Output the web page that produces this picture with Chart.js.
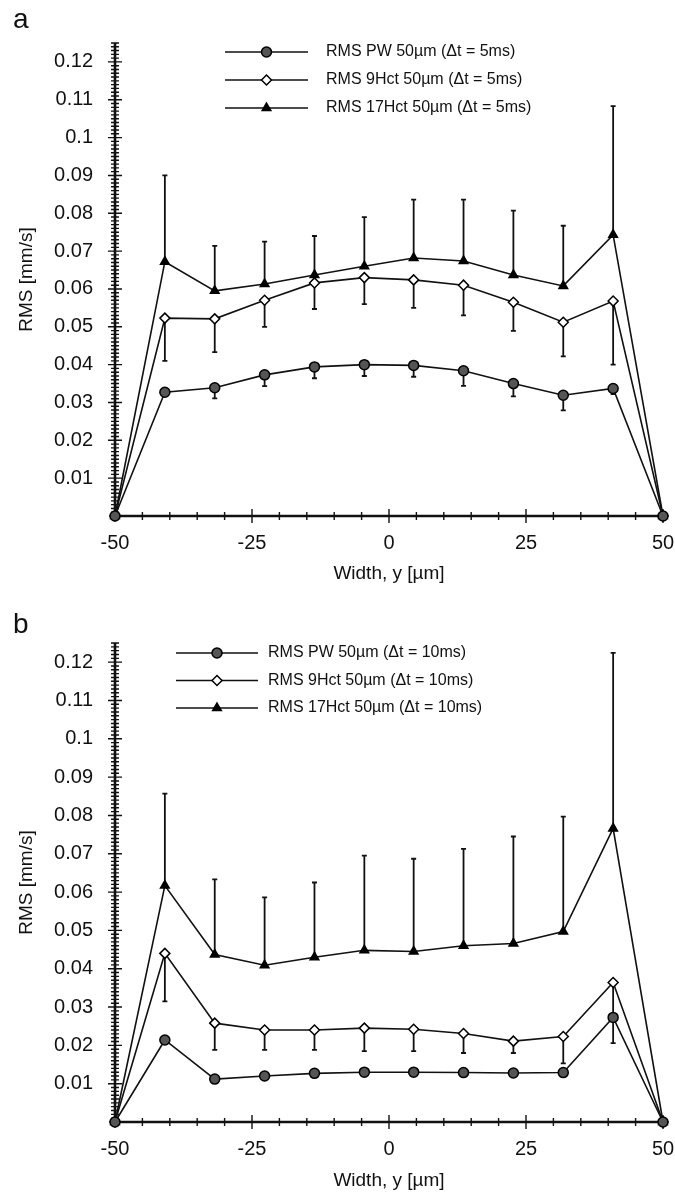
<!DOCTYPE html>
<html>
<head>
<meta charset="utf-8">
<script src="https://cdn.jsdelivr.net/npm/chart.js@4.4.0/dist/chart.umd.min.js"></script>
<style>
  body { margin: 0; background: #fff; }
  .painel { position: relative; width: 675px; height: 596px; }
  .letra { position: absolute; left: 13px; font: 28px "Liberation Sans", Arial, sans-serif; color: #111; line-height: 32px; }
</style>
</head>
<body>
<div class="painel"><div class="letra" style="top:3px">a</div><canvas id="grafico-a"></canvas></div>
<div class="painel"><div class="letra" style="top:12px">b</div><canvas id="grafico-b"></canvas></div>
<script>
// posições no canal (largura, µm)
const larguraY = [-50, -40.9, -31.8, -22.7, -13.6, -4.5, 4.5, 13.6, 22.7, 31.8, 40.9, 50];

// painel a (Δt = 5ms)
const pwA = [0, 0.0327, 0.0339, 0.0373, 0.0394, 0.0400, 0.0398, 0.0384, 0.0350, 0.0319, 0.0337, 0];
const pwErroA = [0, 0.0008, 0.0028, 0.0030, 0.0030, 0.0030, 0.0030, 0.0040, 0.0034, 0.0040, 0.0015, 0];
const hct9A = [0, 0.0523, 0.0521, 0.0570, 0.0616, 0.0630, 0.0624, 0.0610, 0.0565, 0.0512, 0.0568, 0];
const hct9ErroA = [0, 0.0113, 0.0088, 0.0070, 0.0069, 0.0070, 0.0074, 0.0080, 0.0076, 0.0090, 0.0168, 0];
const hct17A = [0, 0.0672, 0.0595, 0.0613, 0.0637, 0.0660, 0.0682, 0.0674, 0.0637, 0.0608, 0.0743, 0];
const hct17ErroA = [0, 0.0228, 0.0119, 0.0112, 0.0103, 0.0130, 0.0154, 0.0162, 0.0170, 0.0159, 0.0340, 0];

// painel b (Δt = 10ms)
const pwB = [0, 0.0214, 0.0112, 0.0120, 0.0127, 0.0130, 0.0130, 0.0129, 0.0128, 0.0129, 0.0273, 0];
const pwErroB = [0, 0.0008, 0.0005, 0.0005, 0.0005, 0.0005, 0.0005, 0.0005, 0.0005, 0.0005, 0.0067, 0];
const hct9B = [0, 0.0440, 0.0258, 0.0240, 0.0240, 0.0245, 0.0242, 0.0231, 0.0211, 0.0223, 0.0364, 0];
const hct9ErroB = [0, 0.0125, 0.0070, 0.0052, 0.0052, 0.0060, 0.0057, 0.0051, 0.0031, 0.0070, 0.0090, 0];
const hct17B = [0, 0.0617, 0.0437, 0.0409, 0.0430, 0.0448, 0.0445, 0.0460, 0.0466, 0.0497, 0.0766, 0];
const hct17ErroB = [0, 0.0240, 0.0196, 0.0177, 0.0195, 0.0247, 0.0242, 0.0253, 0.0279, 0.0300, 0.0458, 0];

const rotulosA = ['RMS PW 50\u00b5m (\u0394t = 5ms)', 'RMS 9Hct 50\u00b5m (\u0394t = 5ms)', 'RMS 17Hct 50\u00b5m (\u0394t = 5ms)'];
const rotulosB = ['RMS PW 50\u00b5m (\u0394t = 10ms)', 'RMS 9Hct 50\u00b5m (\u0394t = 10ms)', 'RMS 17Hct 50\u00b5m (\u0394t = 10ms)'];

const ticksY = ['0.01', '0.02', '0.03', '0.04', '0.05', '0.06', '0.07', '0.08', '0.09', '0.1', '0.11', '0.12'];
const ticksX = ['-50', '-25', '0', '25', '50'];

const FONTE = '"Liberation Sans", Arial, sans-serif';
const PRETO = '#111';

// barras de erro de um lado só (PW e 9Hct para baixo, 17Hct para cima)
const barrasErro = {
  id: 'barrasErro',
  beforeDatasetsDraw(chart) {
    const { ctx, scales: { x, y } } = chart;
    ctx.save();
    ctx.strokeStyle = PRETO;
    ctx.lineWidth = 1.8;
    chart.data.datasets.forEach(ds => {
      ds.data.forEach((p, i) => {
        const e = ds.erro[i];
        if (!e) return;
        const px = x.getPixelForValue(p.x);
        const y0 = y.getPixelForValue(p.y);
        const y1 = y.getPixelForValue(p.y + ds.sentido * e);
        ctx.beginPath();
        ctx.moveTo(px, y0);
        ctx.lineTo(px, y1);
        ctx.moveTo(px - 2.5, y1);
        ctx.lineTo(px + 2.5, y1);
        ctx.stroke();
      });
    });
    ctx.restore();
  }
};

// eixos grossos com marcas cruzando a linha
const eixos = {
  id: 'eixos',
  beforeDatasetsDraw(chart) {
    const { ctx, chartArea: a, scales: { x, y } } = chart;
    const topo = y.getPixelForValue(y.max);
    const fim = x.getPixelForValue(x.max);
    ctx.save();
    ctx.strokeStyle = PRETO;
    ctx.lineWidth = 2.6;
    ctx.beginPath();
    ctx.moveTo(a.left, topo);
    ctx.lineTo(a.left, a.bottom);
    ctx.lineTo(fim, a.bottom);
    ctx.stroke();

    ctx.lineWidth = 1.4;
    ctx.beginPath();
    const nY = Math.round(y.max * 1000);
    for (let i = 1; i <= nY; i++) {
      const py = y.getPixelForValue(i / 1000);
      const t = i % 10 === 0 ? 7 : 4;
      ctx.moveTo(a.left - t, py);
      ctx.lineTo(a.left + t, py);
    }
    for (let v = x.min + 5; v <= x.max; v += 5) {
      const px = x.getPixelForValue(v);
      const t = v % 25 === 0 ? 7 : 4;
      ctx.moveTo(px, a.bottom - t);
      ctx.lineTo(px, a.bottom + t);
    }
    ctx.stroke();
    ctx.restore();
  }
};

// legenda: linha com marcador no meio e texto ao lado
const legendaLinhas = {
  id: 'legendaLinhas',
  afterDraw(chart, args, opts) {
    const { ctx } = chart;
    ctx.save();
    ctx.font = '16px ' + FONTE;
    ctx.textBaseline = 'middle';
    chart.data.datasets.forEach((ds, i) => {
      const yy = opts.y0 + i * opts.dy;
      ctx.strokeStyle = PRETO;
      ctx.lineWidth = 1.6;
      ctx.beginPath();
      ctx.moveTo(opts.x1, yy);
      ctx.lineTo(opts.x2, yy);
      ctx.stroke();
      ctx.fillStyle = ds.pointBackgroundColor;
      ctx.strokeStyle = '#000';
      ctx.lineWidth = 1.5;
      Chart.helpers.drawPoint(ctx, {
        pointStyle: ds.pointStyle, radius: ds.pointRadius, rotation: 0, borderWidth: 1.5
      }, (opts.x1 + opts.x2) / 2, yy);
      ctx.fillStyle = PRETO;
      ctx.fillText(ds.label, opts.tx, yy);
    });
    ctx.restore();
  }
};

function serie(label, valores, erro, sentido, estilo, fundo) {
  return {
    label,
    data: larguraY.map((v, i) => ({ x: v, y: valores[i] })),
    erro,
    sentido,
    borderColor: PRETO,
    borderWidth: 1.6,
    pointStyle: estilo,
    pointRadius: 5,
    pointHoverRadius: 5,
    pointBackgroundColor: fundo,
    pointBorderColor: '#000',
    pointBorderWidth: 1.5,
    tension: 0,
    clip: false
  };
}

function grafico(id, series, legenda, layout) {
  new Chart(document.getElementById(id), {
    type: 'line',
    data: { datasets: series },
    plugins: [eixos, barrasErro, legendaLinhas],
    options: {
      responsive: true,
      maintainAspectRatio: false,
      animation: false,
      layout: { padding: { top: layout.topo, right: 12, left: 0, bottom: 0 } },
      plugins: {
        legend: { display: false },
        tooltip: { enabled: false },
        legendaLinhas: legenda
      },
      scales: {
        x: {
          type: 'linear',
          min: -50,
          max: 50,
          afterFit: s => {
            s.height = layout.alturaX;
            s.paddingLeft = 0;
            s.paddingRight = 0;
          },
          grid: { display: false },
          border: { display: false },
          ticks: {
            stepSize: 25,
            padding: 7,
            color: PRETO,
            font: { family: FONTE, size: 20 },
            maxRotation: 0,
            callback: v => ticksX.find(t => Number(t) === v) ?? ''
          },
          title: {
            display: true,
            text: 'Width, y [\u00b5m]',
            color: PRETO,
            font: { family: FONTE, size: 19 },
            padding: { top: 0, bottom: layout.tituloX }
          }
        },
        y: {
          min: 0,
          max: 0.125,
          afterFit: s => { s.width = 115; },
          grid: { display: false },
          border: { display: false },
          ticks: {
            stepSize: 0.01,
            includeBounds: false,
            padding: 14,
            color: PRETO,
            font: { family: FONTE, size: 20 },
            callback: v => ticksY.find(t => Math.abs(Number(t) - v) < 1e-9) ?? ''
          },
          title: {
            display: true,
            text: 'RMS [mm/s]',
            color: PRETO,
            font: { family: FONTE, size: 19 },
            padding: { top: 15, bottom: 0 }
          }
        }
      }
    }
  });
}

grafico('grafico-a', [
  serie(rotulosA[0], pwA, pwErroA, -1, 'circle', '#555'),
  serie(rotulosA[1], hct9A, hct9ErroA, -1, 'rectRot', '#fff'),
  serie(rotulosA[2], hct17A, hct17ErroA, 1, 'triangle', '#000')
], { x1: 225, x2: 308, tx: 326, y0: 52, dy: 28 }, { topo: 43, alturaX: 80, tituloX: 11 });

grafico('grafico-b', [
  serie(rotulosB[0], pwB, pwErroB, -1, 'circle', '#555'),
  serie(rotulosB[1], hct9B, hct9ErroB, -1, 'rectRot', '#fff'),
  serie(rotulosB[2], hct17B, hct17ErroB, 1, 'triangle', '#000')
], { x1: 176, x2: 258, tx: 268, y0: 57, dy: 27.5 }, { topo: 47, alturaX: 70, tituloX: 0 });
</script>
</body>
</html>
